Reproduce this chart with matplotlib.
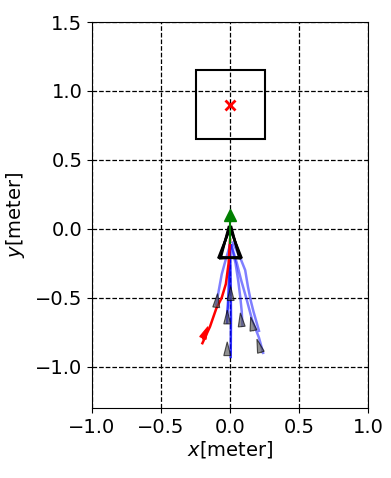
import numpy as np
import matplotlib
matplotlib.use('Agg')
import matplotlib.pyplot as plt
from matplotlib.patches import Rectangle, Polygon

# goal region and target
goal_box = (-0.25, 0.65, 0.5, 0.5)   # x0, y0, w, h
target = (0.0, 0.9)

# robot pose (triangle outline) and heading marker
robot_tri_x = [0.0, -0.075, 0.075]
robot_tri_y = [0.02, -0.21, -0.21]
heading = (0.0, 0.1)

# sampled trajectories (blue)
traj_x = [
    [0.0, 0.003, 0.006, 0.007, 0.006, 0.005],
    [0.0, -0.005, -0.01, -0.015, -0.02, -0.02],
    [0.01, 0.05, 0.08, 0.12, 0.16, 0.21, 0.24],
    [0.01, 0.04, 0.06, 0.075, 0.085, 0.09],
    [0.02, 0.07, 0.11, 0.13, 0.15, 0.17, 0.21],
    [0.0, -0.03, -0.06, -0.08, -0.10],
]
traj_y = [
    [-0.12, -0.3, -0.5, -0.65, -0.8, -0.93],
    [-0.12, -0.3, -0.45, -0.55, -0.62, -0.68],
    [-0.12, -0.25, -0.37, -0.51, -0.66, -0.79, -0.9],
    [-0.12, -0.25, -0.38, -0.5, -0.6, -0.7],
    [-0.1, -0.2, -0.3, -0.42, -0.52, -0.6, -0.74],
    [-0.12, -0.22, -0.33, -0.44, -0.55],
]

# chosen trajectory (red)
best_x = [0.0, -0.01, -0.03, -0.06, -0.1, -0.145, -0.2]
best_y = [-0.08, -0.25, -0.4, -0.5, -0.58, -0.71, -0.83]

# arrow heads along the trajectories
arrow_x = [-0.1, 0.005, -0.02, 0.085, 0.17, 0.225, -0.02]
arrow_y = [-0.57, -0.52, -0.69, -0.71, -0.74, -0.9, -0.92]
arrow_dx = [0.01, 0.0, 0.0, -0.01, -0.02, -0.03, 0.0]
arrow_dy = [0.1, 0.1, 0.1, 0.1, 0.1, 0.1, 0.1]
best_arrow = (-0.2, -0.8, 0.04, 0.09)

fig = plt.figure(figsize=(3.91, 4.78), dpi=100)
ax = fig.add_axes([92 / 391, 70 / 478, 276 / 391, 386 / 478])

ax.add_patch(Rectangle(goal_box[:2], goal_box[2], goal_box[3], fill=False,
                       ec='black', lw=1.5, zorder=3))
ax.plot(*target, 'x', color='red', ms=7, mew=2, zorder=4)

for i, (xs, ys) in enumerate(zip(traj_x, traj_y)):
    ax.plot(xs, ys, color='blue', lw=1.8, alpha=0.8 if i < 2 else 0.5, zorder=3)
ax.plot(best_x, best_y, color='red', lw=1.8, zorder=4)

for x, y, dx, dy in zip(arrow_x, arrow_y, arrow_dx, arrow_dy):
    ax.arrow(x, y, dx, dy, head_width=0.05, head_length=0.1, length_includes_head=True,
             fc='#555555', ec='black', lw=0.8, alpha=0.65, zorder=5)
ax.arrow(*best_arrow, head_width=0.05, head_length=0.09, length_includes_head=True,
         fc='red', ec='red', lw=0.8, zorder=5)

# robot outline drawn a few times slightly rotated
for ang in [-0.06, 0.0, 0.06]:
    c, s = np.cos(ang), np.sin(ang)
    px = [c * x - s * (y + 0.1) for x, y in zip(robot_tri_x, robot_tri_y)]
    py = [s * x + c * (y + 0.1) - 0.1 for x, y in zip(robot_tri_x, robot_tri_y)]
    ax.add_patch(Polygon(np.column_stack([px, py]), closed=True, fill=False,
                         ec='black', lw=1.8, zorder=6))
ax.plot([0, 0], [-0.1, 0.05], color='green', lw=1.5, zorder=6)
ax.plot(*heading, '^', color='green', ms=9, zorder=7)

ax.set_xlim(-1.0, 1.0)
ax.set_ylim(-1.3, 1.5)
ax.set_xticks([-1.0, -0.5, 0.0, 0.5, 1.0])
ax.set_yticks([-1.0, -0.5, 0.0, 0.5, 1.0, 1.5])
ax.grid(True, color='black', linestyle='--', lw=0.9)
ax.tick_params(labelsize=14)
ax.set_xlabel('$x$[meter]', fontsize=14, labelpad=2)
ax.set_ylabel('$y$[meter]', fontsize=14, labelpad=6)

fig.savefig('out.png', dpi=100)
